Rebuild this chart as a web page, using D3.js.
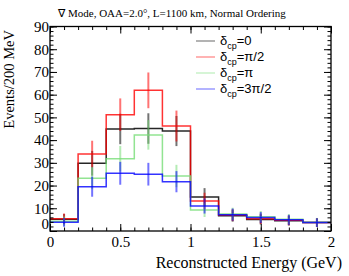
<!DOCTYPE html>
<head>
    <meta charset="UTF-8">
    <title>Reconstructed energy spectra</title>
</head>
<style>
    body { margin: 0; background: #fff; }
    text { font-family: "Liberation Serif", "Times New Roman", serif; }
    .axis .domain { display: none; }
    .axis line { stroke: #000; stroke-width: 1; }
    .axis text { font-family: "Liberation Serif", "Times New Roman", serif; font-size: 15px; fill: #000; }
    .legend text { font-family: "Liberation Sans", Arial, sans-serif; font-size: 13px; }
</style>
<body>
<script src="https://d3js.org/d3.v7.min.js"></script>
<script>
    // bin edges (GeV) and the four delta_cp spectra, events per 200 MeV
    var binEdges = [0, 0.2, 0.4, 0.6, 0.8, 1.0, 1.2, 1.4, 1.6, 1.8, 2.0];
    var dcp0     = [5.2, 29.8, 44.9, 45.1, 44.0, 15.0, 6.7, 5.1, 4.5, 3.7];
    var dcpPi2   = [5.4, 33.9, 51.2, 61.9, 46.2, 13.2, 7.0, 5.4, 4.7, 3.7];
    var dcpPi    = [4.3, 23.2, 31.8, 42.3, 24.2, 9.2, 7.5, 6.3, 5.2, 3.8];
    var dcp3Pi2  = [3.8, 19.5, 25.4, 25.0, 21.7, 11.0, 7.2, 5.9, 4.9, 3.7];

    var seriesNames = ["0", "\u03c0/2", "\u03c0", "3\u03c0/2"];
    var seriesColors = ["#000000", "#ff0000", "#77dd77", "#0000ff"];
    var seriesValues = [dcp0, dcpPi2, dcpPi, dcp3Pi2];

    var xMajor = [0, 0.5, 1, 1.5, 2];
    var yMajor = [0, 10, 20, 30, 40, 50, 60, 70, 80, 90];

    var W = 349, H = 276;
    var pLeft = 50, pRight = 331, pTop = 26.5, pBottom = 231;

    var svg = d3.select("body").append("svg")
        .attr("width", W)
        .attr("height", H);

    var x = d3.scaleLinear().domain([0, 2]).range([pLeft, pRight]);
    var y = d3.scaleLinear().domain([0, 90]).range([pBottom, pTop]);

    // histograms (steps) and sqrt(N) error bars
    seriesValues.forEach(function(vals, s) {
        var pts = [];
        vals.forEach(function(v, i) {
            pts.push([binEdges[i], v]);
            pts.push([binEdges[i + 1], v]);
        });
        svg.append("path")
            .attr("d", d3.line().x(function(d) { return x(d[0]); }).y(function(d) { return y(d[1]); })(pts))
            .attr("fill", "none")
            .attr("stroke", seriesColors[s])
            .attr("stroke-opacity", s === 0 ? 0.85 : 0.8)
            .attr("stroke-width", 1.5);

        svg.append("g").selectAll("line")
            .data(vals)
            .enter().append("line")
            .attr("x1", function(d, i) { return x((binEdges[i] + binEdges[i + 1]) / 2); })
            .attr("x2", function(d, i) { return x((binEdges[i] + binEdges[i + 1]) / 2); })
            .attr("y1", function(d) { return y(d - Math.sqrt(d)); })
            .attr("y2", function(d) { return y(Math.min(90, d + Math.sqrt(d))); })
            .attr("stroke", seriesColors[s])
            .attr("stroke-opacity", 0.55)
            .attr("stroke-width", 2);
    });

    // frame
    svg.append("rect")
        .attr("x", pLeft).attr("y", pTop)
        .attr("width", pRight - pLeft).attr("height", pBottom - pTop)
        .attr("fill", "none").attr("stroke", "#000").attr("stroke-width", 1.3);

    // axes: minor + major ticks, all pointing inward
    var xMinor = d3.range(0, 21).map(function(d) { return d / 10; });
    var yMinor = d3.range(0, 46).map(function(d) { return d * 2; });

    svg.append("g").attr("class", "axis").attr("transform", "translate(0," + pBottom + ")")
        .call(d3.axisBottom(x).tickValues(xMinor).tickSize(-3.5).tickFormat(""));
    svg.append("g").attr("class", "axis").attr("transform", "translate(0," + pBottom + ")")
        .call(d3.axisBottom(x).tickValues(xMajor).tickSize(-7).tickPadding(5).tickFormat(d3.format("")));
    svg.append("g").attr("class", "axis").attr("transform", "translate(0," + pTop + ")")
        .call(d3.axisTop(x).tickValues(xMinor).tickSize(-3.5).tickFormat(""));
    svg.append("g").attr("class", "axis").attr("transform", "translate(0," + pTop + ")")
        .call(d3.axisTop(x).tickValues(xMajor).tickSize(-7).tickFormat(""));

    svg.append("g").attr("class", "axis").attr("transform", "translate(" + pLeft + ",0)")
        .call(d3.axisLeft(y).tickValues(yMinor).tickSize(-3.5).tickFormat(""));
    svg.append("g").attr("class", "axis").attr("transform", "translate(" + pLeft + ",0)")
        .call(d3.axisLeft(y).tickValues(yMajor).tickSize(-7).tickPadding(1).tickFormat(d3.format("")))
        .selectAll("text")
        .filter(function(d) { return d === 0; })
        .attr("y", -7); // ROOT lifts the zero label off the corner
    svg.append("g").attr("class", "axis").attr("transform", "translate(" + pRight + ",0)")
        .call(d3.axisRight(y).tickValues(yMinor).tickSize(-3.5).tickFormat(""));
    svg.append("g").attr("class", "axis").attr("transform", "translate(" + pRight + ",0)")
        .call(d3.axisRight(y).tickValues(yMajor).tickSize(-7).tickFormat(""));

    // titles
    svg.append("text")
        .attr("x", 172).attr("y", 17)
        .attr("text-anchor", "middle")
        .style("font-size", "11px")
        .text("\u2207 Mode, OAA=2.0\u00b0, L=1100 km, Normal Ordering");

    svg.append("text")
        .attr("x", 342).attr("y", 268)
        .attr("text-anchor", "end")
        .style("font-size", "16px")
        .text("Reconstructed Energy (GeV)");

    svg.append("text")
        .attr("transform", "translate(14,30) rotate(-90)")
        .attr("text-anchor", "end")
        .style("font-size", "14.5px")
        .text("Events/200 MeV");

    // legend
    var legend = svg.append("g").attr("class", "legend");
    seriesNames.forEach(function(name, s) {
        var ly = 41 + s * 16;
        legend.append("line")
            .attr("x1", 196).attr("x2", 215)
            .attr("y1", ly).attr("y2", ly)
            .attr("stroke", seriesColors[s])
            .attr("stroke-opacity", 0.5)
            .attr("stroke-width", 1.2);
        var t = legend.append("text").attr("x", 220).attr("y", ly + 4);
        t.append("tspan").text("\u03b4");
        t.append("tspan").attr("dy", 4).style("font-size", "9px").text("cp");
        t.append("tspan").attr("dy", -4).text("=" + name);
    });
</script>
</body>
